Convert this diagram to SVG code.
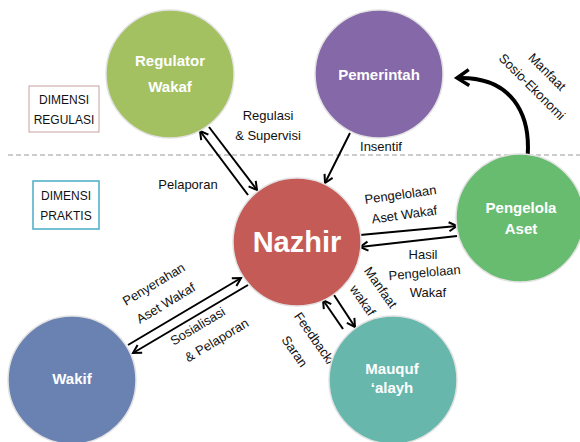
<svg xmlns="http://www.w3.org/2000/svg" width="580" height="442" viewBox="0 0 580 442">
<style>
.node{stroke:#e2e2e2;stroke-width:1.5}
.nt{font-family:"Liberation Sans",Arial,sans-serif;font-weight:bold;fill:#fff;text-anchor:middle;font-size:15px}
.lb{font-family:"Liberation Sans",Arial,sans-serif;fill:#111;text-anchor:middle;font-size:13px}
.dim{font-family:"Liberation Sans",Arial,sans-serif;fill:#111;text-anchor:middle;font-size:12px}
.ar{stroke:#000;stroke-width:2;fill:none;marker-end:url(#ah)}
</style>
<defs>
<marker id="ah" viewBox="0 0 12 12" refX="10" refY="6" markerWidth="12" markerHeight="12" markerUnits="userSpaceOnUse" orient="auto">
<path d="M2,1.5 L10,6 L2,10.5" fill="none" stroke="#000" stroke-width="2"/>
</marker>
<marker id="ahb" viewBox="0 0 20 20" refX="16" refY="10" markerWidth="20" markerHeight="20" markerUnits="userSpaceOnUse" orient="auto">
<path d="M4,2 L16,10 L4,18" fill="none" stroke="#000" stroke-width="3.5"/>
</marker>
</defs>
<rect width="580" height="442" fill="#fff"/>
<line x1="8" y1="155" x2="580" y2="155" stroke="#9a9a9a" stroke-width="1" stroke-dasharray="5,3"/>
<g id="dimensi-regulasi">
<rect x="29" y="86" width="70" height="46" fill="#fff" stroke="#c9a0a0" stroke-width="1"/>
<text class="dim" x="64" y="104">DIMENSI</text>
<text class="dim" x="64" y="124">REGULASI</text>
</g>
<g id="dimensi-praktis">
<rect x="33" y="181" width="66" height="48" fill="#fff" stroke="#4bacc6" stroke-width="1.5"/>
<text class="dim" x="66" y="200">DIMENSI</text>
<text class="dim" x="66" y="220">PRAKTIS</text>
</g>
<g id="connectors">
<line class="ar" x1="209" y1="127" x2="257" y2="190"/>
<line class="ar" x1="248" y1="195" x2="200" y2="131"/>
<line class="ar" x1="350" y1="133" x2="325" y2="183"/>
<line class="ar" x1="360" y1="235" x2="457" y2="226"/>
<line class="ar" x1="457" y1="236" x2="360" y2="247"/>
<line class="ar" x1="343" y1="329" x2="323" y2="300"/>
<line class="ar" x1="334" y1="295" x2="355" y2="327"/>
<line class="ar" x1="128" y1="345" x2="241" y2="278"/>
<line class="ar" x1="248" y1="285" x2="133" y2="353"/>
<path d="M527,163 C533,112 510,76 457,78" fill="none" stroke="#000" stroke-width="4" marker-end="url(#ahb)"/>
<text class="lb" x="268" y="120">Regulasi</text>
<text class="lb" x="268" y="140">&amp; Supervisi</text>
<text class="lb" x="188" y="189">Pelaporan</text>
<text class="lb" x="381" y="151">Insentif</text>
<text class="lb" transform="translate(401,199) rotate(-8)">Pengelolaan</text>
<text class="lb" transform="translate(405,219) rotate(-8)">Aset Wakaf</text>
<text class="lb" x="423" y="259">Hasil</text>
<text class="lb" transform="translate(425,277) rotate(-5)">Pengelolaan</text>
<text class="lb" x="428" y="297">Wakaf</text>
<text class="lb" transform="translate(544,75) rotate(45)">Manfaat</text>
<text class="lb" transform="translate(529,90) rotate(45)">Sosio-Ekonomi</text>
<text class="lb" transform="translate(377,290) rotate(55)">Manfaat</text>
<text class="lb" transform="translate(359,303) rotate(55)">wakaf</text>
<text class="lb" transform="translate(311,341) rotate(55)">Feedback/</text>
<text class="lb" transform="translate(291,354) rotate(55)">Saran</text>
<text class="lb" transform="translate(156,288) rotate(-31)">Penyerahan</text>
<text class="lb" transform="translate(168,307) rotate(-31)">Aset Wakaf</text>
<text class="lb" transform="translate(200,330) rotate(-31)">Sosialisasi</text>
<text class="lb" transform="translate(219,344) rotate(-31)">&amp; Pelaporan</text>
</g>
<g id="regulator">
<circle class="node" cx="170" cy="74" r="64" fill="#a3c160"/>
<text class="nt" x="170" y="66">Regulator</text>
<text class="nt" x="170" y="92">Wakaf</text>
</g>
<g id="pemerintah">
<circle class="node" cx="379" cy="74" r="64" fill="#8568a8"/>
<text class="nt" x="379" y="80">Pemerintah</text>
</g>
<g id="nazhir">
<circle class="node" cx="297" cy="242" r="64" fill="#c55b56"/>
<text class="nt" x="297" y="252" style="font-size:29px">Nazhir</text>
</g>
<g id="pengelola">
<circle class="node" cx="520" cy="218" r="64" fill="#68bc70"/>
<text class="nt" x="521" y="213">Pengelola</text>
<text class="nt" x="521" y="234">Aset</text>
</g>
<g id="wakif">
<circle class="node" cx="72" cy="380" r="64" fill="#6a82b2"/>
<text class="nt" x="72" y="384">Wakif</text>
</g>
<g id="mauquf">
<circle class="node" cx="393" cy="380" r="64" fill="#67b7ad"/>
<text class="nt" x="392" y="374">Mauquf</text>
<text class="nt" x="392" y="393">‘alayh</text>
</g>
</svg>
